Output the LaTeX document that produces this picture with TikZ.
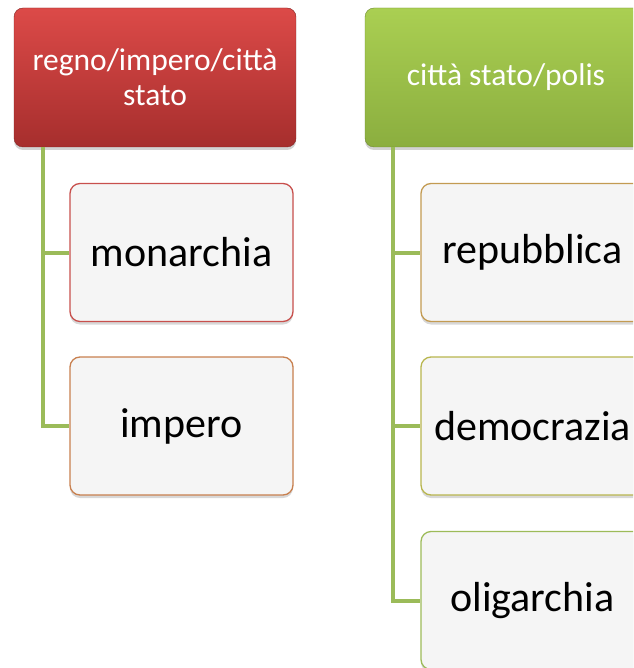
\documentclass[tikz,border=0pt]{standalone}
\usepackage{fontspec}
\setmainfont{Carlito}
\usetikzlibrary{shadows}
\definecolor{conn}{HTML}{9BBB59}
\definecolor{redtop}{HTML}{DC4A48}
\definecolor{redbot}{HTML}{A62E2D}
\definecolor{grtop}{HTML}{AACF52}
\definecolor{grbot}{HTML}{8BAE3F}
\definecolor{chfill}{HTML}{F5F5F5}
\definecolor{bmon}{HTML}{C8504D}
\definecolor{bimp}{HTML}{C8804F}
\definecolor{brep}{HTML}{C39B52}
\definecolor{bdem}{HTML}{B8B64E}
\definecolor{bolig}{HTML}{9DBB59}
\tikzset{
  hdr/.style={rectangle, rounded corners=9pt, minimum width=282pt, minimum height=139pt,
    text=white, align=center, font=\fontsize{31.5}{35}\selectfont, inner sep=0pt,
    drop shadow={opacity=0.35, shadow xshift=0pt, shadow yshift=-3pt}},
  child/.style={rectangle, rounded corners=10pt, minimum width=223pt, minimum height=138pt,
    fill=chfill, line width=1.3pt, align=center, font=\fontsize{42}{48}\selectfont, inner sep=0pt,
    drop shadow={opacity=0.3, shadow xshift=0pt, shadow yshift=-3pt}},
  link/.style={draw=conn, line width=4pt}
}
\begin{document}
\begin{tikzpicture}[x=1pt,y=-1pt]
\clip (0,0) rectangle (633,668);
\fill[white] (0,0) rectangle (633,668);
% connectors
\coordinate (rs) at (43,147);
\coordinate (gs) at (393,147);
% headers
\node[hdr, top color=redtop, bottom color=redbot, draw=redbot!80!black] (r) at (155,77.5) {regno/impero/città\\stato};
\node[hdr, top color=grtop, bottom color=grbot, draw=grbot!80!black] (g) at (506,77.5) {città stato/polis};
% children
\node[child, draw=bmon] (m) at (181.5,252.5) {monarchia};
\node[child, draw=bimp] (i) at (181.5,426) {impero};
\node[child, draw=brep] (rp) at (532.5,252.5) {repubblica};
\node[child, draw=bdem] (d) at (532.5,426) {democrazia};
\node[child, draw=bolig] (o) at (532.5,600.5) {oligarchia};
\draw[link] (rs) |- (i.west);
\draw[link] (rs |- m.west) -- (m.west);
\draw[link] (gs) |- (o.west);
\draw[link] (gs |- rp.west) -- (rp.west);
\draw[link] (gs |- d.west) -- (d.west);
\end{tikzpicture}
\end{document}
